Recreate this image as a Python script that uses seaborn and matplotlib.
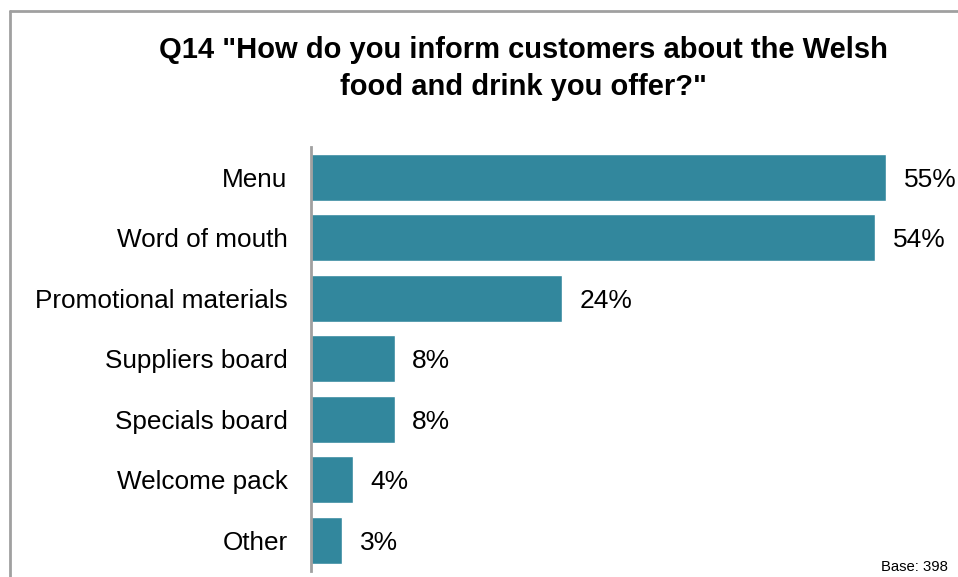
import matplotlib
matplotlib.use("Agg")
import matplotlib.pyplot as plt
from matplotlib.lines import Line2D
import seaborn as sns
import pandas as pd

categories = ["Menu", "Word of mouth", "Promotional materials", "Suppliers board",
              "Specials board", "Welcome pack", "Other"]
values = [55, 54, 24, 8, 8, 4, 3]
title_lines = ['Q14 "How do you inform customers about the Welsh',
               'food and drink you offer?"']
base_note = "Base: 398"

df = pd.DataFrame({"category": categories, "pct": values})

sns.set_theme(style="white")
plt.rcParams["font.family"] = ["Liberation Sans", "DejaVu Sans"]
plt.rcParams["text.color"] = "black"

fig = plt.figure(figsize=(9.58, 5.77), dpi=100)
ax = fig.add_axes([311 / 958, 1 - 570.5 / 577, 627 / 958, 423.5 / 577])

sns.barplot(data=df, x="pct", y="category", order=categories, color="#32879D",
            saturation=1, width=0.77, ax=ax, orient="h")

ax.set_xlim(0, 60)
ax.set_ylim(6.5, -0.5)
ax.set_xlabel("")
ax.set_ylabel("")
ax.set_xticks([])
ax.tick_params(axis="y", length=0, pad=17, labelsize=18.8, labelcolor="black")
for lbl in ax.get_yticklabels():
    lbl.set_va("center_baseline")
for s in ["top", "right", "bottom"]:
    ax.spines[s].set_visible(False)
ax.spines["left"].set_color("#A0A0A0")
ax.spines["left"].set_linewidth(2)

for i, v in enumerate(values):
    ax.text(v + 1.7, i + 0.04, f"{v}%", va="center", ha="left", fontsize=19, color="black")

for y_px, line in zip([50, 87], title_lines):
    fig.text(523 / 958, 1 - y_px / 577, line, ha="center", va="center",
             fontsize=21, fontweight="bold", color="black")
fig.text(948 / 958, 1 - 574 / 577, base_note, ha="right", va="bottom",
         fontsize=10.7, color="black")

# outer frame lines
fig.add_artist(Line2D([9.5 / 958, 9.5 / 958], [0, 1 - 11 / 577], color="#A0A0A0", lw=2))
fig.add_artist(Line2D([9.5 / 958, 1], [1 - 11 / 577, 1 - 11 / 577], color="#A0A0A0", lw=2))

fig.savefig("out.png", dpi=100)
